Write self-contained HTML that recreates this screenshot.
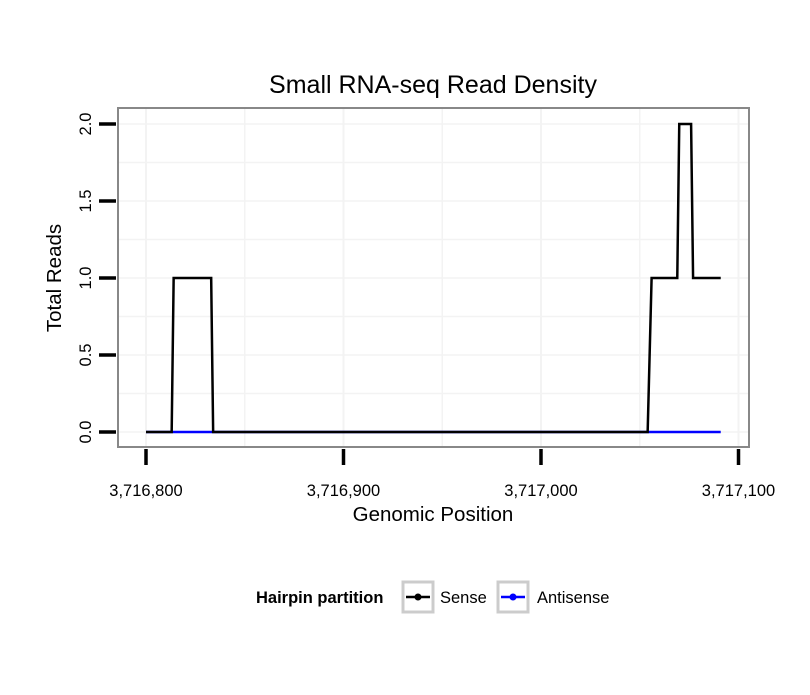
<!DOCTYPE html>
<html><head><meta charset="utf-8"><style>
body{margin:0;background:#fff}
svg text{font-family:"Liberation Sans",Arial,sans-serif}
</style></head><body>
<svg id="chart" width="810" height="690" xmlns="http://www.w3.org/2000/svg">
<rect width="810" height="690" fill="#fff"/>
<g id="grid"></g>
<g id="series"></g>
<rect x="118" y="108" width="631" height="339" fill="none" stroke="#888" stroke-width="2"/>
<g id="axes"></g>
<text x="433" y="93" font-size="25" text-anchor="middle">Small RNA-seq Read Density</text>
<text x="433" y="521" font-size="20.5" text-anchor="middle">Genomic Position</text>
<text transform="translate(61,278) rotate(-90)" font-size="20.5" text-anchor="middle">Total Reads</text>
<g>
<text x="256" y="603" font-size="16.5" font-weight="bold">Hairpin partition</text>
<g>
<rect x="403" y="582" width="30" height="30" fill="#fff" stroke="#ccc" stroke-width="3"/>
<line x1="406" y1="597" x2="430" y2="597" stroke="#000" stroke-width="2.5"/>
<circle cx="418" cy="597" r="3.5" fill="#000"/>
<text x="440" y="603" font-size="16.5">Sense</text>
</g>
<g>
<rect x="498" y="582" width="30" height="30" fill="#fff" stroke="#ccc" stroke-width="3"/>
<line x1="501" y1="597" x2="525" y2="597" stroke="#00f" stroke-width="2.5"/>
<circle cx="513" cy="597" r="3.5" fill="#00f"/>
<text x="537" y="603" font-size="16.5">Antisense</text>
</g>
</g>
</svg>
<script>
const senseX = [3716800,3716813,3716814,3716833,3716834,3717054,3717056,3717069,3717070,3717076,3717077,3717091];
const senseY = [0,0,1,1,0,0,1,1,2,2,1,1];
const antisenseX = [3716800,3717091];
const antisenseY = [0,0];
const xTicks = [3716800,3716900,3717000,3717100];
const xTickLabels = ["3,716,800","3,716,900","3,717,000","3,717,100"];
const yTicks = [0,0.5,1,1.5,2];
const yTickLabels = ["0.0","0.5","1.0","1.5","2.0"];

const NS="http://www.w3.org/2000/svg";
function sx(v){return 146+(v-3716800)*1.975;}
function sy(v){return 432-v*154;}
function mk(tag,attrs,parent){const e=document.createElementNS(NS,tag);for(const k in attrs)e.setAttribute(k,attrs[k]);parent.appendChild(e);return e;}
const grid=document.getElementById('grid'),series=document.getElementById('series'),axes=document.getElementById('axes');
for(let v=3716800;v<=3717100;v+=50){
  const g=mk('line',{x1:sx(v),x2:sx(v),y1:108,y2:447,stroke:'#f3f3f3','stroke-width':v%100===0?2:1.5},grid);
  
  
}
for(let v=0;v<=2.1;v+=0.25){
  const g=mk('line',{x1:118,x2:749,y1:sy(v),y2:sy(v),stroke:'#f3f3f3','stroke-width':1.5},grid);
  
  
}
function path(xs,ys){return xs.map((x,i)=>(i?'L':'M')+sx(x)+','+sy(ys[i])).join(' ');}
const a=mk('path',{d:path(antisenseX,antisenseY),fill:'none',stroke:'#00f','stroke-width':2.5},series);


const s=mk('path',{d:path(senseX,senseY),fill:'none',stroke:'#000','stroke-width':2.5},series);


xTicks.forEach((v,i)=>{
  const t=mk('line',{x1:sx(v),x2:sx(v),y1:449,y2:465,stroke:'#000','stroke-width':3.5},axes);
  
  
  const l=mk('text',{x:sx(v),y:496,'font-size':16.5,'text-anchor':'middle'},axes);
  l.textContent=xTickLabels[i];
  
  
});
yTicks.forEach((v,i)=>{
  const t=mk('line',{x1:99,x2:116,y1:sy(v),y2:sy(v),stroke:'#000','stroke-width':3.5},axes);
  
  
  const l=mk('text',{transform:'translate(91,'+sy(v)+') rotate(-90)','font-size':16.5,'text-anchor':'middle'},axes);
  l.textContent=yTickLabels[i];
  
  
});
</script>
</body></html>
